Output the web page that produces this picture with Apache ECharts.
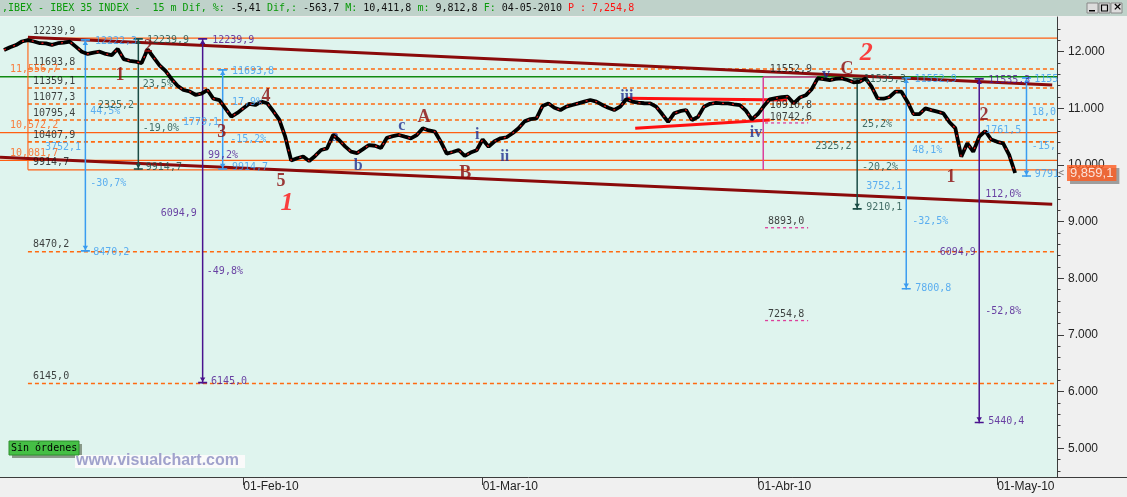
<!DOCTYPE html>
<html>
<head>
<meta charset="utf-8">
<script src="https://cdn.jsdelivr.net/npm/echarts@6/dist/echarts.min.js"></script>
<style>
  html, body { margin: 0; padding: 0; background: #f0f0f0; }
  #chart { width: 1127px; height: 497px; }
</style>
</head>
<body>
<div id="chart"></div>
<script>
// precio cada media sesion (15 m agrupado), 04-Jan-10 .. 04-May-10
const price = [
  12030, 12080, 12118, 12180, 12206, 12180, 12150, 12148, 12120, 12150,
  12160, 12176, 12090, 12000, 11960, 11985, 12000, 11960, 11940, 12050,
  11870, 11840, 11823, 11800, 12042, 11900, 11760, 11660, 11520, 11400,
  11324, 11300, 11240, 11260, 11324, 11170, 11147, 11000, 10853, 10920,
  11000, 11080, 11060, 11118, 11090, 10950, 10800, 10500, 10080, 10120,
  10150, 10070, 10160, 10265, 10295, 10530, 10441, 10330, 10235, 10210,
  10280, 10353, 10340, 10300, 10480, 10510, 10530, 10500, 10471, 10530,
  10648, 10610, 10590, 10412, 10200, 10230, 10265, 10160, 10220, 10260,
  10450, 10324, 10420, 10471, 10490, 10560, 10650, 10770, 10810, 10824,
  11040, 11085, 11010, 10971, 11030, 11060, 11089, 11120, 11147, 11120,
  11060, 11010, 10971, 11030, 11160, 11120, 11100, 11090, 11089, 11030,
  10900, 10760, 10912, 10950, 10971, 10794, 10850, 11030, 11080, 11095,
  11089, 11089, 11070, 11059, 10960, 10806, 10900, 11040, 11160, 11180,
  11200, 11206, 11089, 11190, 11230, 11340, 11530, 11515, 11500, 11520,
  11530, 11500, 11460, 11470, 11530, 11383, 11178, 11170, 11200, 11294,
  11294, 11118, 10900, 10900, 11000, 10970, 10941, 10912, 10760, 10650,
  10147, 10383, 10235, 10500, 10600, 10450, 10410, 10383, 10180, 9859.1
];

const monthTicks = [40, 80, 126, 166];
const monthLabels = ['01-Feb-10', '01-Mar-10', '01-Abr-10', '01-May-10'];
const yTicks = [5000, 6000, 7000, 8000, 9000, 10000, 11000, 12000];
const yLabels = ['5.000', '6.000', '7.000', '8.000', '9.000', '10.000', '11.000', '12.000'];
const yMinor = [4600, 4800, 5200, 5400, 5600, 5800, 6200, 6400, 6600, 6800, 7200, 7400, 7600, 7800,
  8200, 8400, 8600, 8800, 9200, 9400, 9600, 9800, 10200, 10400, 10600, 10800,
  11200, 11400, 11600, 11800, 12200, 12400];

// retroceso de Fibonacci sobre la onda 1
const fibLevels = [12239.9, 11693.8, 11359.1, 11077.3, 10795.4, 10407.9, 9914.7, 8470.2, 6145.0];
const fibDashed = [false, true, true, true, true, true, false, true, true];
const fibLabels = ['12239,9', '11693,8', '11359,1', '11077,3', '10795,4', '10407,9', '9914,7', '8470,2', '6145,0'];
const keyLevels = [10572.2, 10081.7];
const keyLabels = ['11,556,7', '10,572,2', '10,081,7'];
const greenLevel = 11556.7;

// canal bajista y triangulo
const upperTrend = [[4, 12254], [175.2, 11412]];
const lowerTrend = [[-0.67, 10136], [175.2, 9307]];
const triUpper = [[104.1, 11177], [130.9, 11148]];
const triLower = [[105.5, 10648], [128.0, 10794]];

// mediciones verticales: x, desde, hasta, color
const measures = [
  [13.6, 12222.3, 8470.2, 'blue'],
  [22.45, 12239.9, 9914.7, 'teal'],
  [33.2, 12239.9, 6145.0, 'purple'],
  [36.55, 11693.8, 9914.7, 'blue'],
  [142.6, 11535.3, 9210.1, 'teal'],
  [150.8, 11552.9, 7800.8, 'blue'],
  [163.0, 11535.3, 5440.4, 'purple'],
  [170.9, 11552.9, 9791.4, 'blue']
];
const pinkMeasure = [126.9, 11552.9, 9912];
const pinkTargets = [10742.6, 8893.0, 7254.8];

const blueTexts = [
  [15.2, 12180, '12222,3'], [14.4, 10953, '44,5%'], [6.85, 10318, '3752,1'], [14.4, 9682, '-30,7%'], [14.9, 8465, '8470,2'],
  [38.1, 11659, '11693,8'], [38.1, 11112, '17,9%'], [29.9, 10759, '1779,1'], [37.8, 10450, '-15,2%'], [38.1, 9965, '9914,7'],
  [152.2, 11509, '11552,9'], [151.8, 10265, '48,1%'], [144.1, 9630, '3752,1'], [151.8, 9012, '-32,5%'], [152.3, 7829, '7800,8'],
  [172.2, 11509, '1155'], [171.8, 10936, '18,0'], [164.0, 10618, '1761,5'], [171.8, 10336, '-15,'], [172.3, 9841, '9791']
];
const tealTexts = [
  [23.9, 12206, '12239,9'], [23.2, 11430, '23,5%'], [15.7, 11059, '2325,2'], [23.2, 10653, '-19,0%'], [23.7, 9956, '9914,7'],
  [143.7, 11509, '11535,3'], [143.4, 10724, '25,2%'], [135.6, 10336, '2325,2'], [143.4, 9965, '-20,2%'], [144.1, 9259, '9210,1']
];
const purpleTexts = [
  [34.8, 12206, '12239,9'], [34.1, 10177, '99,2%'], [26.2, 9153, '6094,9'], [33.9, 8129, '-49,8%'], [34.6, 6188, '6145,0'],
  [164.5, 11500, '11535,3'], [164.0, 9488, '112,0%'], [156.4, 8465, '6094,9'], [164.0, 7423, '-52,8%'], [164.5, 5482, '5440,4']
];
const blackTexts = [
  [128.0, 11695, '11552,9'], [128.0, 11059, '10910,8'], [128.0, 10847, '10742,6'], [127.7, 9012, '8893,0'], [127.7, 7371, '7254,8']
];

// recuento de ondas
const waveMaroon = [[19.4, 11589, '1'], [24.1, 12083, '2'], [36.4, 10583, '3'], [43.8, 11218, '4'], [46.3, 9718, '5'],
  [70.2, 10847, 'A'], [77.1, 9859, 'B'], [140.9, 11695, 'C'], [163.8, 10883, '2'], [158.3, 9788, '1']];
const waveRed = [[47.3, 9330, '1'], [144.1, 11977, '2']];
const waveNavy = [[55.3, 10494, 'a'], [59.2, 9983, 'b'], [66.5, 10689, 'c'], [79.1, 10530, 'i'], [83.7, 10141, 'ii'],
  [104.1, 11200, 'iii'], [125.7, 10565, 'iv'], [137.4, 11589, 'v']];

const C = {
  blue: '#3a9cf0', teal: '#1b4c45', purple: '#4a128e', pink: '#dc3f9b',
  orange: '#ff5f12', dash: '#ff6a10', green: '#118a11', maroon: '#8a0a0a', red: '#ff1010', navy: '#1f2f8f'
};
const XMIN = -0.67, XMAX = 176;
const UP = 'path://M0,0L10,0L10,1.4L0,1.4ZM5,1.4L8,5L2,5Z';
const DOWN = 'path://M0,8.6L10,8.6L10,10L0,10ZM5,8.6L2,5L8,5Z';
const MONO = 'DejaVu Sans Mono';
const SANS = 'Liberation Sans';

function seg(points, color, width, type, z) {
  return {
    type: 'line', data: points, symbol: 'none', silent: true, z: z || 2,
    lineStyle: { color: color, width: width, type: type || 'solid', cap: 'butt' }
  };
}

function texts(rows, color, label, z) {
  return {
    type: 'scatter', silent: true, symbolSize: 0, z: z || 8, clip: false,
    data: rows.map(r => ({ value: [r[0], r[1]], name: r[2] })),
    label: Object.assign({
      show: true, position: 'right', distance: 0, formatter: '{b}',
      color: color, fontFamily: MONO, fontSize: 10
    }, label || {})
  };
}

const series = [];

// niveles horizontales
fibLevels.forEach((v, i) => {
  series.push(fibDashed[i]
    ? seg([[4, v], [XMAX, v]], C.dash, 1.6, [4, 3], 1)
    : seg([[4, v], [XMAX, v]], C.orange, 1.1, 'solid', 1));
});
keyLevels.forEach(v => series.push(seg([[XMIN, v], [XMAX, v]], C.orange, 1.1, 'solid', 1)));
series.push(seg([[XMIN, greenLevel], [XMAX, greenLevel]], C.green, 1.5, 'solid', 1));
series.push(seg([[4, 12239.9], [4, 9914.7]], C.orange, 1.1, 'solid', 1));

// canal y triangulo
series.push(seg(upperTrend, C.maroon, 3, 'solid', 3));
series.push(seg(lowerTrend, C.maroon, 3, 'solid', 3));
series.push(seg(triUpper, C.red, 3, 'solid', 3));
series.push(seg(triLower, C.red, 3, 'solid', 3));

// mediciones
measures.forEach(m => {
  series.push({
    type: 'line', silent: true, z: 4, showSymbol: true,
    lineStyle: { color: C[m[3]], width: 1.5 },
    itemStyle: { color: C[m[3]] },
    data: [
      { value: [m[0], m[1]], symbol: UP, symbolSize: [9, 6], symbolOffset: [0, 3] },
      { value: [m[0], m[2]], symbol: DOWN, symbolSize: [9, 6], symbolOffset: [0, -3] }
    ]
  });
});
series.push(seg([[pinkMeasure[0], pinkMeasure[1]], [pinkMeasure[0], pinkMeasure[2]]], C.pink, 1.5, 'solid', 4));
series.push(seg([[pinkMeasure[0], pinkMeasure[1]], [135.9, pinkMeasure[1]]], C.pink, 1.5, 'solid', 4));
pinkTargets.forEach(v => series.push(seg([[127.2, v], [134.4, v]], C.pink, 1.3, [3, 3], 4)));

// textos debajo del precio
series.push(texts(waveNavy, C.navy, {
  position: 'inside', fontFamily: 'Liberation Serif', fontWeight: 'bold', fontSize: 16
}, 4));

// precio
const pricePts = price.map((v, i) => [i, v]);
series.push({
  type: 'line', data: pricePts, symbol: 'none', silent: true, z: 5,
  lineStyle: { color: '#000', width: 3.8 }
});
series.push({
  type: 'line', data: pricePts, symbol: 'none', silent: true, z: 6,
  lineStyle: { color: '#e01818', width: 1.3, type: [2, 8] }
});

// etiqueta del ultimo precio
const last = price.length - 1;
series.push({
  type: 'scatter', silent: true, clip: false, symbolSize: 0, z: 20,
  data: [[XMAX, price[last]]],
  label: {
    show: true, position: 'right', distance: 0,
    formatter: p => {
      const s = p.value[1].toFixed(1).split('.');
      return '{a|<}{b|' + s[0].replace(/\B(?=(\d{3})+$)/g, ',') + ',' + s[1] + '}';
    },
    rich: {
      a: { color: '#555', fontFamily: MONO, fontSize: 10, padding: [0, 3, 0, 1] },
      b: {
        color: '#fff', backgroundColor: '#ff5a1e', fontFamily: SANS,
        fontSize: 13, padding: [2, 3, 1, 3],
        shadowColor: 'rgba(120,120,120,0.85)', shadowOffsetX: 3, shadowOffsetY: 3, shadowBlur: 0
      }
    }
  }
});

// etiquetas
series.push(texts(fibLevels.map((v, i) => [4.85, v, fibLabels[i]]), '#111', { offset: [0, -7] }));
series.push(texts([[1.0, greenLevel, keyLabels[0]], [1.0, keyLevels[0], keyLabels[1]], [1.0, keyLevels[1], keyLabels[2]]],
  C.orange, { offset: [0, -7] }));
series.push(texts(blueTexts, C.blue));
series.push(texts(tealTexts, C.teal));
series.push(texts(purpleTexts, C.purple));
series.push(texts(blackTexts, '#111'));
series.push(texts(waveMaroon, C.maroon, {
  position: 'inside', fontFamily: 'Liberation Serif', fontWeight: 'bold', fontSize: 18
}, 9));
series.push(texts(waveRed, C.red, {
  position: 'inside', fontFamily: 'Liberation Serif', fontWeight: 'bold', fontStyle: 'italic', fontSize: 26
}, 9));

const chart = echarts.init(document.getElementById('chart'));
chart.setOption({
  animation: false,
  backgroundColor: '#f0f0f0',
  grid: {
    left: 0, right: 70, top: 17, bottom: 20, show: true,
    backgroundColor: '#dff4ee', borderWidth: 0
  },
  xAxis: {
    type: 'value', min: XMIN, max: XMAX,
    splitLine: { show: false },
    axisLine: { show: true, onZero: false, lineStyle: { color: '#3c3c3c' } },
    axisTick: { show: true, customValues: monthTicks, length: 8, lineStyle: { color: '#3c3c3c' } },
    axisLabel: {
      customValues: monthTicks, formatter: v => monthLabels[monthTicks.indexOf(v)],
      align: 'left', margin: 4, color: '#222', fontFamily: SANS, fontSize: 12
    }
  },
  yAxis: [{
    type: 'value', position: 'right', min: 4493.5, max: 12612.5,
    splitLine: { show: false },
    axisLine: { show: true, onZero: false, lineStyle: { color: '#3c3c3c' } },
    axisTick: { show: true, customValues: yTicks, length: 7, lineStyle: { color: '#3c3c3c' } },
    axisLabel: {
      customValues: yTicks, formatter: v => yLabels[yTicks.indexOf(v)],
      margin: 11, color: '#222', fontFamily: SANS, fontSize: 12
    }
  }, {
    type: 'value', position: 'right', min: 4493.5, max: 12612.5,
    splitLine: { show: false },
    axisLine: { show: false, onZero: false },
    axisTick: { show: true, customValues: yMinor, length: 3.5, lineStyle: { color: '#3c3c3c' } },
    axisLabel: { show: false }
  }],
  graphic: [
    { type: 'rect', z: 100, shape: { x: 0, y: 0, width: 1127, height: 16 }, style: { fill: '#bfd2ca' } },
    {
      type: 'text', z: 101, left: 2, top: 3,
      style: {
        text: '{g|,IBEX - IBEX 35 INDEX -  15 m Dif, %: }{k|-5,41}{g| Dif,: }{k|-563,7}{g| M: }{k|10,411,8}{g| m: }{k|9,812,8}{g| F: }{k|04-05-2010}{r| P : 7,254,8}',
        rich: {
          g: { fill: '#0a9a0a', fontFamily: MONO, fontSize: 10 },
          k: { fill: '#111', fontFamily: MONO, fontSize: 10 },
          r: { fill: '#ff1010', fontFamily: MONO, fontSize: 10 }
        }
      }
    },
    { type: 'rect', z: 101, shape: { x: 1087, y: 3, width: 11, height: 10 }, style: { fill: '#dcdcdc', stroke: '#888' } },
    { type: 'rect', z: 101, shape: { x: 1099, y: 3, width: 11, height: 10 }, style: { fill: '#dcdcdc', stroke: '#888' } },
    { type: 'rect', z: 101, shape: { x: 1111, y: 3, width: 11, height: 10 }, style: { fill: '#dcdcdc', stroke: '#888' } },
    { type: 'rect', z: 102, shape: { x: 1089, y: 10, width: 6, height: 1.5 }, style: { fill: '#000' } },
    { type: 'rect', z: 102, shape: { x: 1101.5, y: 5, width: 6, height: 6 }, style: { fill: 'none', stroke: '#000', lineWidth: 1.2 } },
    { type: 'text', z: 102, left: 1113, top: 2, style: { text: '×', fill: '#000', font: 'bold 11px DejaVu Sans' } },
    { type: 'line', z: 100, shape: { x1: 1057, y1: 477.5, x2: 1127, y2: 477.5 }, style: { stroke: '#3c3c3c' } },
    { type: 'rect', z: 100, shape: { x: 12, y: 444, width: 70, height: 14 }, style: { fill: '#8a9a8a' } },
    { type: 'rect', z: 101, shape: { x: 9, y: 441, width: 70, height: 14 }, style: { fill: '#45bf45', stroke: '#2e8f2e' } },
    { type: 'text', z: 102, left: 11, top: 443, style: { text: 'Sin órdenes', fill: '#000', font: '10px DejaVu Sans Mono' } },
    { type: 'rect', z: 100, shape: { x: 75, y: 455, width: 170, height: 13 }, style: { fill: '#fafafa' } },
    { type: 'text', z: 101, left: 76, top: 453, style: { text: 'www.visualchart.com', fill: '#a0a2cc', font: 'bold 16px Liberation Sans' } }
  ],
  series: series
});
</script>
</body>
</html>
